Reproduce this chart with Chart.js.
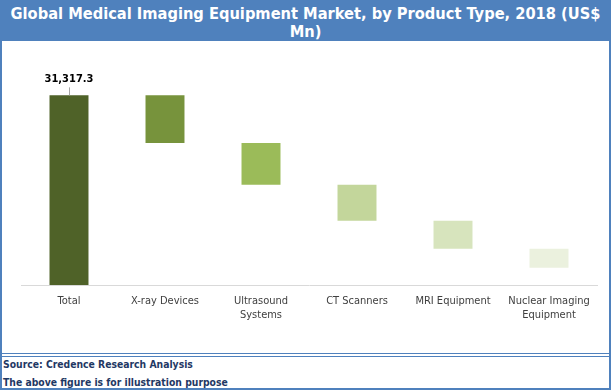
<!DOCTYPE html>
<html>
<head>
<meta charset="utf-8">
<script src="https://cdn.jsdelivr.net/npm/chart.js@4.4.1/dist/chart.umd.min.js"></script>
<style>
  html, body { margin: 0; padding: 0; background: #fff; }
  #frame { position: absolute; left: 0; top: 0; width: 611px; height: 390px; box-sizing: border-box; border: 2px solid #4F81BD; background: #fff; }
  #title { position: absolute; left: 0; top: 0; width: 611px; height: 41px; background: #4F81BD; color: #fff;
    font: bold 16.3px "DejaVu Sans Condensed", "DejaVu Sans", sans-serif; text-align: center; line-height: 18px; padding-top: 5px; box-sizing: border-box; }
  #chartBox { position: absolute; left: 2px; top: 41px; width: 607px; height: 312px; }
  #sep { position: absolute; left: 0; top: 353px; width: 611px; height: 4px; box-sizing: border-box; border-top: 1px solid #4F81BD; border-bottom: 1px solid #4F81BD; }
  .foot { position: absolute; left: 3px; color: #1F3864; font: bold 10.3px "DejaVu Sans Condensed", "DejaVu Sans", sans-serif; }
</style>
</head>
<body>
<div id="frame"></div>
<div id="title">Global Medical Imaging Equipment Market, by Product Type, 2018 (US$<br>Mn)</div>
<div id="chartBox"><canvas id="chart" width="607" height="312"></canvas></div>
<div id="sep"></div>
<div class="foot" style="top:358px">Source: Credence Research Analysis</div>
<div class="foot" style="top:376px">The above figure is for illustration purpose</div>
<script>
// waterfall data (US$ Mn)
const categories = ['Total', 'X-ray Devices', ['Ultrasound', 'Systems'], 'CT Scanners', 'MRI Equipment', ['Nuclear Imaging', 'Equipment']];
const total = 31317.3;
const segments = [7860, 6920, 5930, 4610, 3130];
const colors = ['#4F6228', '#77933C', '#9BBB59', '#C3D69B', '#D7E4BD', '#EBF1DE'];

// floating bars: total from zero, then each segment stepping down
const bars = [[0, total]];
let level = total;
segments.forEach(v => {
  bars.push([level - v, level]);
  level -= v;
});

const totalLabel = {
  id: 'totalLabel',
  afterDatasetsDraw(chart) {
    const bar = chart.getDatasetMeta(0).data[0];
    const ctx = chart.ctx;
    ctx.save();
    ctx.strokeStyle = '#A6A6A6';
    ctx.lineWidth = 1;
    ctx.beginPath();
    ctx.moveTo(Math.round(bar.x) + 0.5, bar.y - 8);
    ctx.lineTo(Math.round(bar.x) + 0.5, bar.y);
    ctx.stroke();
    ctx.fillStyle = '#000';
    ctx.font = 'bold 11px "DejaVu Sans Condensed", "DejaVu Sans", sans-serif';
    ctx.textAlign = 'center';
    ctx.textBaseline = 'bottom';
    ctx.fillText(total.toLocaleString('en-US', { minimumFractionDigits: 1 }), bar.x, bar.y - 11);
    ctx.restore();
  }
};

const ctx = document.getElementById('chart').getContext('2d');
new Chart(ctx, {
  type: 'bar',
  data: {
    labels: categories,
    datasets: [{
      data: bars,
      backgroundColor: colors,
      borderWidth: 0,
      categoryPercentage: 1,
      barPercentage: 0.406
    }]
  },
  options: {
    responsive: false,
    animation: false,
    layout: { padding: { left: 19, right: 12, top: 26, bottom: 0 } },
    plugins: { legend: { display: false }, tooltip: { enabled: false } },
    scales: {
      x: {
        grid: { display: false, drawTicks: false },
        border: { color: '#D9D9D9', width: 1 },
        ticks: {
          color: '#404040',
          padding: 9,
          maxRotation: 0,
          autoSkip: false,
          font: { family: '"Liberation Sans Narrow", "DejaVu Sans Condensed", sans-serif', size: 11, lineHeight: 1.27 }
        },
        afterFit: s => { s.height = 68; }
      },
      y: {
        display: false,
        min: 0,
        max: 36000
      }
    }
  },
  plugins: [totalLabel]
});
</script>
</body>
</html>
